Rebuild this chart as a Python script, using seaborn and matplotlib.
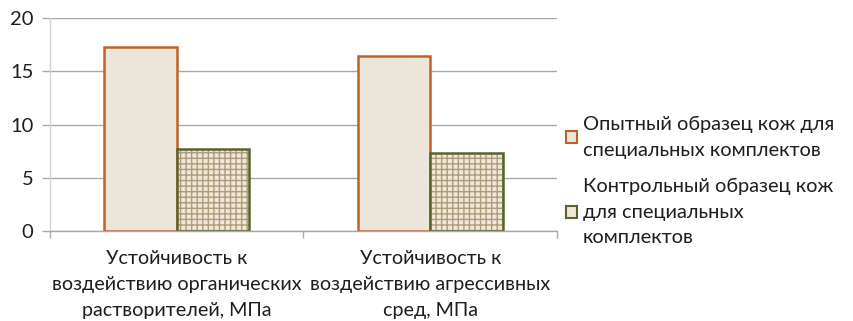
import matplotlib
matplotlib.use("Agg")
import matplotlib.pyplot as plt
from matplotlib.patches import Patch, Rectangle
import seaborn as sns
import pandas as pd

categories = [
    "Устойчивость к\nвоздействию органических\nрастворителей, МПа",
    "Устойчивость к\nвоздействию агрессивных\nсред, МПа",
]
series = [
    "Опытный образец кож для\nспециальных комплектов",
    "Контрольный образец кож\nдля специальных\nкомплектов",
]
experimental = [17.3, 16.4]
control = [7.7, 7.3]
yticks = [0, 5, 10, 15, 20]

df = pd.DataFrame({
    "category": categories * 2,
    "series": [series[0]] * 2 + [series[1]] * 2,
    "value": experimental + control,
})

sns.set_theme(style="white")
plt.rcParams["font.family"] = ["Lato", "DejaVu Sans"]

fill_colors = ["#ebe5da", "#efe8d6"]
edge_colors = ["#c0602a", "#56652e"]
hatch_color = "#ad9b7c"
text_color = "#1e1e1e"
axis_gray = "#a9a9a9"

fig = plt.figure(figsize=(8.54, 3.21), dpi=100)
ax = fig.add_axes([50 / 854, 1 - 231 / 321, 507 / 854, 213 / 321])

sns.barplot(data=df, x="category", y="value", hue="series", order=categories,
            hue_order=series, palette=fill_colors, width=0.572, gap=0,
            saturation=1, legend=False, ax=ax)

n = len(categories)
for i, bar in enumerate(ax.patches[:2 * n]):
    s = i // n
    if s == 0:
        bar.set_edgecolor(edge_colors[0])
        bar.set_linewidth(1.8)
    else:
        # woven texture underneath, outline drawn on top
        bar.set_hatch("+++")
        bar.set_edgecolor(hatch_color)
        bar.set_linewidth(0)
        ax.add_patch(Rectangle(bar.get_xy(), bar.get_width(), bar.get_height(),
                               fill=False, edgecolor=edge_colors[1],
                               linewidth=1.8, zorder=bar.get_zorder() + 0.1))

ax.set_xlim(-0.5, n - 0.5)
ax.set_ylim(0, 20)
ax.set_yticks(yticks)
ax.set_yticklabels([str(v) for v in yticks], fontsize=14.5, color=text_color)
ax.yaxis.grid(True, color=axis_gray, linewidth=1.0)
ax.set_axisbelow(True)
ax.set_xlabel("")
ax.set_ylabel("")

ax.set_xticks(range(n))
ax.set_xticklabels(categories, fontsize=14.2, color=text_color, linespacing=1.62)
ax.set_xticks([k - 0.5 for k in range(n + 1)], minor=True)
ax.tick_params(axis="x", which="major", length=0, pad=14)
ax.tick_params(axis="x", which="minor", length=5, color=axis_gray, width=1, bottom=True)
ax.tick_params(axis="y", which="major", length=6, color=axis_gray, width=1, left=True, pad=6)

for side in ["top", "right"]:
    ax.spines[side].set_visible(False)
ax.spines["left"].set_color("#d4d4d4")
ax.spines["left"].set_linewidth(1)
ax.spines["bottom"].set_color(axis_gray)
ax.spines["bottom"].set_linewidth(1)

handles = [
    Patch(facecolor=fill_colors[0], edgecolor=edge_colors[0], linewidth=1.5),
    Patch(facecolor=fill_colors[1], edgecolor=edge_colors[1], linewidth=1.5),
]
leg = fig.legend(handles, series, loc="upper left", bbox_to_anchor=(566 / 854, 1 - 116 / 321),
                 frameon=False, fontsize=14.4, handlelength=0.55, handleheight=0.55,
                 handletextpad=0.3, labelspacing=0.95, borderaxespad=0, borderpad=0,
                 labelcolor=text_color)
for t in leg.get_texts():
    t.set_linespacing(1.62)

fig.savefig("out.png", dpi=100, facecolor="white")
